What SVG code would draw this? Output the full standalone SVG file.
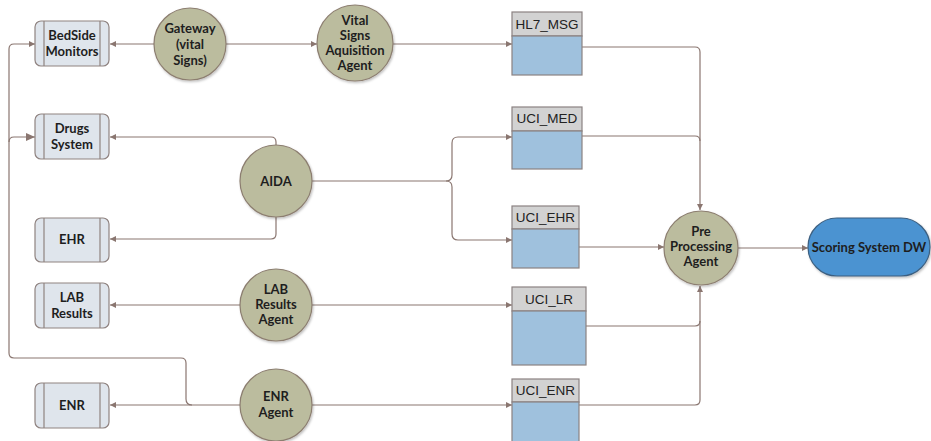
<svg xmlns="http://www.w3.org/2000/svg" width="931" height="441" viewBox="0 0 931 441">
  <style>
    .sys rect.box { fill: #dfe5ec; stroke: #8f8380; stroke-width: 1.2; }
    .sys line { stroke: #8f8380; stroke-width: 1.2; }
    .agent circle { fill: #bbbc9e; stroke: #8c7e70; stroke-width: 1.2; filter: url(#shadow); }
    .lbl { font-family: Lato, "Open Sans", "Liberation Sans", sans-serif; font-weight: bold; font-size: 13px; fill: #1e1e1e; text-anchor: middle; }
    .tbl .head { fill: #d2d2d2; stroke: #8b8282; stroke-width: 1.2; }
    .tbl .body { fill: #9fc1dd; stroke: #8b8282; stroke-width: 1.2; }
    .tname { font-family: "Liberation Sans", Arial, sans-serif; font-size: 13.5px; fill: #222; text-anchor: middle; }
    .wire { fill: none; stroke: #8a7670; stroke-width: 1.2; }
    .arr { marker-end: url(#tip); }
  </style>
  <defs>
    <marker id="tip" markerUnits="userSpaceOnUse" markerWidth="7" markerHeight="6" refX="6" refY="3" orient="auto">
      <path d="M0,0 L6,3 L0,6 z" fill="#8a7670"/>
    </marker>
    <marker id="tipBig" markerUnits="userSpaceOnUse" markerWidth="10" markerHeight="8" refX="9" refY="4" orient="auto">
      <path d="M0,0 L9,4 L0,8 z" fill="#8a7670"/>
    </marker>
    <filter id="shadow" x="-20%" y="-20%" width="150%" height="150%">
      <feDropShadow dx="1" dy="1.5" stdDeviation="1.2" flood-color="#000" flood-opacity="0.25"/>
    </filter>
  </defs>

  <!-- connectors -->
  <g id="connectors">
    <path class="wire arr" d="M154,44 H110"/>
    <path class="wire arr" d="M226,44 H317"/>
    <path class="wire arr" d="M393,44 H512"/>
    <path class="wire arr" d="M582,47 H695 Q700,47 700,52 V210"/>
    <path class="wire" d="M582,136 H695 Q700,136 700,141"/>
    <path class="wire arr" d="M312,181 H446 Q452,181 452,175 V143 Q452,137 458,137 H512"/>
    <path class="wire arr" d="M446,181 Q452,181 452,187 V234 Q452,240 458,240 H512"/>
    <path class="wire arr" d="M276,145 V142 Q276,137 271,137 H110"/>
    <path class="wire arr" d="M276,217 V234 Q276,239 271,239 H110"/>
    <path class="wire arr" d="M579,247 H664"/>
    <path class="wire arr" d="M738,248 H808"/>
    <path class="wire arr" d="M241,305 H110"/>
    <path class="wire arr" d="M312,305 H512"/>
    <path class="wire arr" d="M586,326 H695 Q700,326 700,321 V286"/>
    <path class="wire" d="M579,405 H695 Q700,405 700,400 V321"/>
    <path class="wire arr" d="M241,405 H110"/>
    <path class="wire arr" d="M312,405 H512"/>
    <path class="wire arr" d="M192,405 Q186,405 186,399 V363 Q186,358 181,358 H14 Q9,358 9,353 V49 Q9,44 14,44 H35"/>
    <path class="wire" marker-end="url(#tipBig)" d="M9,142 Q9,137 14,137 H35"/>
  </g>

  <!-- source systems -->
  <g id="bedside" class="sys">
    <rect class="box" x="35" y="21" width="74" height="45" rx="6"/>
    <line x1="44" y1="21" x2="44" y2="66"/><line x1="100" y1="21" x2="100" y2="66"/>
    <text class="lbl" x="72" y="40">BedSide</text>
    <text class="lbl" x="72" y="56">Monitors</text>
  </g>
  <g id="drugs" class="sys">
    <rect class="box" x="35" y="114" width="74" height="45" rx="6"/>
    <line x1="44" y1="114" x2="44" y2="159"/><line x1="100" y1="114" x2="100" y2="159"/>
    <text class="lbl" x="72" y="133">Drugs</text>
    <text class="lbl" x="72" y="149">System</text>
  </g>
  <g id="ehr" class="sys">
    <rect class="box" x="35" y="218" width="74" height="44" rx="6"/>
    <line x1="44" y1="218" x2="44" y2="262"/><line x1="100" y1="218" x2="100" y2="262"/>
    <text class="lbl" x="72" y="244">EHR</text>
  </g>
  <g id="lab" class="sys">
    <rect class="box" x="35" y="283" width="74" height="45" rx="6"/>
    <line x1="44" y1="283" x2="44" y2="328"/><line x1="100" y1="283" x2="100" y2="328"/>
    <text class="lbl" x="72" y="302">LAB</text>
    <text class="lbl" x="72" y="318">Results</text>
  </g>
  <g id="enr" class="sys">
    <rect class="box" x="35" y="383" width="74" height="45" rx="6"/>
    <line x1="44" y1="383" x2="44" y2="428"/><line x1="100" y1="383" x2="100" y2="428"/>
    <text class="lbl" x="72" y="410">ENR</text>
  </g>

  <!-- agents -->
  <g id="gateway" class="agent">
    <circle cx="190" cy="44" r="36"/>
    <text class="lbl" x="190" y="33">Gateway</text>
    <text class="lbl" x="190" y="49">(vital</text>
    <text class="lbl" x="190" y="65">Signs)</text>
  </g>
  <g id="vital" class="agent">
    <circle cx="355" cy="43" r="38"/>
    <text class="lbl" x="355" y="25">Vital</text>
    <text class="lbl" x="355" y="40">Signs</text>
    <text class="lbl" x="355" y="55">Aquisition</text>
    <text class="lbl" x="355" y="70">Agent</text>
  </g>
  <g id="aida" class="agent">
    <circle cx="276" cy="181" r="36"/>
    <text class="lbl" x="276" y="186">AIDA</text>
  </g>
  <g id="labagent" class="agent">
    <circle cx="276" cy="305" r="36"/>
    <text class="lbl" x="276" y="294">LAB</text>
    <text class="lbl" x="276" y="309">Results</text>
    <text class="lbl" x="276" y="324">Agent</text>
  </g>
  <g id="enragent" class="agent">
    <circle cx="276" cy="405" r="36"/>
    <text class="lbl" x="276" y="401">ENR</text>
    <text class="lbl" x="276" y="417">Agent</text>
  </g>
  <g id="pre" class="agent">
    <circle cx="701" cy="248" r="37"/>
    <text class="lbl" x="701" y="236">Pre</text>
    <text class="lbl" x="701" y="251">Processing</text>
    <text class="lbl" x="701" y="266">Agent</text>
  </g>

  <!-- staging tables -->
  <g id="hl7msg" class="tbl">
    <rect class="head" x="512" y="12" width="70" height="24"/>
    <rect class="body" x="512" y="36" width="70" height="39"/>
    <text class="tname" x="547" y="29">HL7_MSG</text>
  </g>
  <g id="ucimed" class="tbl">
    <rect class="head" x="512" y="107" width="70" height="24"/>
    <rect class="body" x="512" y="131" width="70" height="38"/>
    <text class="tname" x="547" y="123">UCI_MED</text>
  </g>
  <g id="uciehr" class="tbl">
    <rect class="head" x="512" y="206" width="67" height="23"/>
    <rect class="body" x="512" y="229" width="67" height="39"/>
    <text class="tname" x="545.5" y="222">UCI_EHR</text>
  </g>
  <g id="ucilr" class="tbl">
    <rect class="head" x="512" y="287" width="74" height="24"/>
    <rect class="body" x="512" y="311" width="74" height="54"/>
    <text class="tname" x="549" y="304">UCI_LR</text>
  </g>
  <g id="ucienr" class="tbl">
    <rect class="head" x="512" y="379" width="67" height="23"/>
    <rect class="body" x="512" y="402" width="67" height="45"/>
    <text class="tname" x="545.5" y="395">UCI_ENR</text>
  </g>

  <!-- warehouse -->
  <g id="scoring">
    <rect x="808" y="218" width="122" height="58" rx="29" fill="#4b93d1" stroke="#3c5f80" stroke-width="1.2" filter="url(#shadow)"/>
    <text class="lbl" x="869" y="252">Scoring System DW</text>
  </g>
</svg>
